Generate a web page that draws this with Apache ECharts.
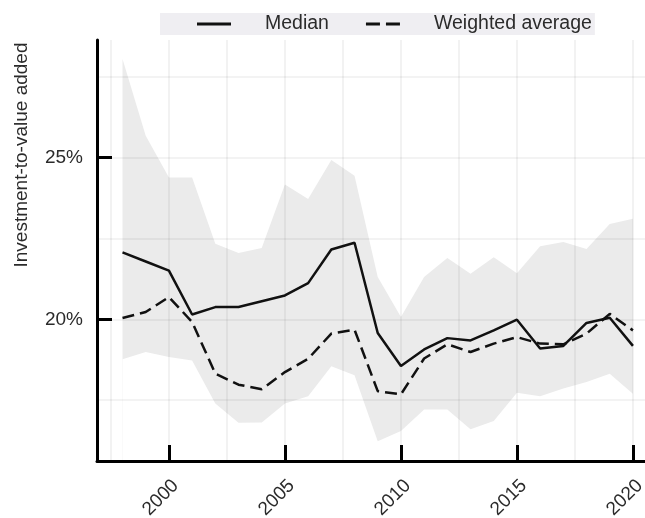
<!DOCTYPE html>
<html><head><meta charset="utf-8">
<script src="https://cdn.jsdelivr.net/npm/echarts@6/dist/echarts.min.js"></script>
<style>html,body{margin:0;padding:0;background:#fff}#c{width:645px;height:518px}</style>
</head><body><div id="c"></div>
<script>
const years = [1998,1999,2000,2001,2002,2003,2004,2005,2006,2007,2008,2009,2010,2011,2012,2013,2014,2015,2016,2017,2018,2019,2020];
const median = [22.07,21.79,21.51,20.15,20.38,20.38,20.56,20.74,21.12,22.16,22.37,19.58,18.56,19.07,19.42,19.35,19.66,19.99,19.10,19.18,19.89,20.05,19.18];
const weighted = [20.04,20.23,20.69,19.92,18.32,17.98,17.84,18.37,18.78,19.56,19.68,17.78,17.68,18.79,19.23,18.99,19.25,19.45,19.25,19.23,19.56,20.17,19.66];
const bandHigh = [28.05,25.68,24.39,24.39,22.34,22.05,22.21,24.17,23.72,24.93,24.44,21.31,20.07,21.31,21.90,21.41,21.92,21.43,22.26,22.39,22.18,22.95,23.11];
const bandLow = [18.77,18.99,18.84,18.73,17.40,16.80,16.81,17.40,17.62,18.55,18.27,16.23,16.55,17.21,17.21,16.60,16.86,17.73,17.62,17.86,18.06,18.32,17.70];
const xTickYears = [2000,2005,2010,2015,2020];
const yTickValues = [20,25];
const xGridValues = [1997.5,2000,2002.5,2005,2007.5,2010,2012.5,2015,2017.5,2020];
const yGridValues = [17.5,20,22.5,25,27.5];
const yAxisTitle = 'Investment-to-value added';
const seriesNames = ['Median','Weighted average'];

const FONT = "'Liberation Sans', Arial, Helvetica, sans-serif";
const TXT = '#2b2b2b';
const pairs = arr => years.map((y,i)=>[y, arr[i]]);

const chart = echarts.init(document.getElementById('c'), null, {renderer:'canvas'});
chart.setOption({
  animation:false,
  backgroundColor:'#fff',
  grid:{left:97, top:40, width:548, height:421, containLabel:false, outerBoundsMode:'none'},
  legend:{
    left:160, top:13,
    backgroundColor:'#efeef2',
    padding:[0,3,0,37],
    itemWidth:34, itemHeight:3, itemGap:37,
    itemStyle:{borderWidth:0},
    textStyle:{fontFamily:FONT, fontSize:19.5, color:TXT, lineHeight:22, padding:[0,0,0,29]},
    data:[{name:seriesNames[0], icon:'rect'},{name:seriesNames[1], icon:'path://M0,0H14V3H0Z M20,0H34V3H20Z'}]
  },
  xAxis:{
    type:'value', min:1996.9, max:2020.52, z:10,
    axisLine:{onZero:false, lineStyle:{color:'#000', width:3}},
    axisTick:{customValues:xTickYears, inside:true, length:16, lineStyle:{color:'#000', width:3}},
    axisLabel:{customValues:xTickYears, rotate:45, margin:15, verticalAlign:'top', align:'right', fontFamily:FONT, fontSize:19, color:TXT, formatter:v=>String(v)},
    splitLine:{show:false}
  },
  yAxis:{
    type:'value', min:15.62, max:28.64, z:10,
    name:yAxisTitle, nameLocation:'middle', nameRotate:90, nameGap:66,
    nameTextStyle:{fontFamily:FONT, fontSize:19, color:TXT, padding:[0,0,0,191]},
    axisLine:{onZero:false, lineStyle:{color:'#000', width:3}},
    axisTick:{customValues:yTickValues, inside:true, length:15, lineStyle:{color:'#000', width:3}},
    axisLabel:{customValues:yTickValues, margin:14, fontFamily:FONT, fontSize:19, color:TXT, formatter:v=>v+'%'},
    splitLine:{show:false}
  },
  series:[
    {name:'bandHigh', type:'line', data:pairs(bandHigh), symbol:'none', lineStyle:{opacity:0},
      areaStyle:{color:'#ebebeb', opacity:1, origin:'start'}, z:1, silent:true},
    {name:'bandLow', type:'line', data:pairs(bandLow), symbol:'none', lineStyle:{opacity:0},
      areaStyle:{color:'#ffffff', opacity:1, origin:'start'}, z:1, silent:true},
    {name:'grid', type:'line', data:[], symbol:'none', z:2, silent:true,
      markLine:{silent:true, symbol:['none','none'], label:{show:false}, animation:false,
        lineStyle:{color:'rgba(0,0,0,0.065)', width:1.6, type:'solid'},
        data:[...xGridValues.map(v=>({xAxis:v})), ...yGridValues.map(v=>({yAxis:v}))]}},
    {name:seriesNames[0], type:'line', data:pairs(median), symbol:'none', z:3,
      itemStyle:{color:'#111'}, lineStyle:{color:'#111', width:2.5}},
    {name:seriesNames[1], type:'line', data:pairs(weighted), symbol:'none', z:3,
      itemStyle:{color:'#111'}, lineStyle:{color:'#111', width:2.5, type:[12,6]}}
  ]
});
</script></body></html>
